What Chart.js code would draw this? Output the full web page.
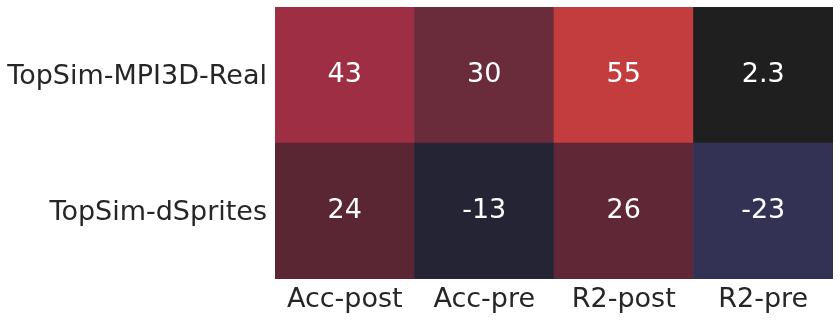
<!DOCTYPE html>
<html>
<head>
<meta charset="utf-8">
<script src="https://cdn.jsdelivr.net/npm/chart.js@4/dist/chart.umd.min.js"></script>
<style>
  html, body { margin: 0; padding: 0; background: #fff; }
  #wrap { width: 840px; height: 320px; }
</style>
</head>
<body>
<div id="wrap"><canvas id="heat"></canvas></div>
<script>
// heatmap values
const columns = ['Acc-post', 'Acc-pre', 'R2-post', 'R2-pre'];
const rows = ['TopSim-MPI3D-Real', 'TopSim-dSprites'];
const mpi3dReal = [43, 30, 55, 2.3];
const dSprites = [24, -13, 26, -23];

// colour scale (value -> colour)
const colorStops = [
  [-23, [0x34, 0x32, 0x54]],
  [-13, [0x25, 0x24, 0x35]],
  [2.3, [0x20, 0x1f, 0x1f]],
  [24, [0x5b, 0x26, 0x33]],
  [30, [0x6a, 0x2c, 0x3b]],
  [43, [0x9e, 0x2e, 0x44]],
  [55, [0xc3, 0x3d, 0x3f]],
];

function cellColor(v) {
  if (v <= colorStops[0][0]) return 'rgb(' + colorStops[0][1].join(',') + ')';
  for (let i = 1; i < colorStops.length; i++) {
    const [v1, c1] = colorStops[i];
    const [v0, c0] = colorStops[i - 1];
    if (v <= v1) {
      const t = (v - v0) / (v1 - v0);
      const c = c0.map((a, k) => Math.round(a + (c1[k] - a) * t));
      return 'rgb(' + c.join(',') + ')';
    }
  }
  return 'rgb(' + colorStops[colorStops.length - 1][1].join(',') + ')';
}

const fontFamily = '"DejaVu Sans", sans-serif';
const fontSize = 27;

// bottom row first, so it stacks from y = 0
const rowSeries = [dSprites, mpi3dReal];

const cellLabels = {
  id: 'cellLabels',
  afterDatasetsDraw(chart) {
    const ctx = chart.ctx;
    ctx.save();
    ctx.fillStyle = '#ffffff';
    ctx.font = fontSize + 'px ' + fontFamily;
    ctx.textAlign = 'center';
    ctx.textBaseline = 'middle';
    chart.data.datasets.forEach((ds, di) => {
      chart.getDatasetMeta(di).data.forEach((bar, i) => {
        const p = bar.getProps(['x', 'y', 'base'], true);
        ctx.fillText(String(ds.values[i]), p.x, (p.y + p.base) / 2);
      });
    });
    ctx.restore();
  }
};

new Chart(document.getElementById('heat'), {
  type: 'bar',
  data: {
    labels: columns,
    datasets: rowSeries.map((vals, r) => ({
      label: rows[rows.length - 1 - r],
      values: vals,
      data: vals.map(() => 1),
      backgroundColor: vals.map(cellColor),
      borderWidth: 0,
      barPercentage: 1,
      categoryPercentage: 1,
    })),
  },
  options: {
    responsive: true,
    maintainAspectRatio: false,
    animation: false,
    layout: { padding: { top: 7, right: 7, left: 0, bottom: 0 } },
    plugins: { legend: { display: false }, tooltip: { enabled: false } },
    scales: {
      x: {
        stacked: true,
        grid: { display: false, drawTicks: false },
        border: { display: false },
        ticks: { color: '#262626', font: { family: fontFamily, size: fontSize }, padding: 5, maxRotation: 0 },
        afterFit(scale) {
          scale.height = 41;
          scale.paddingLeft = 0;
          scale.paddingRight = 0;
        },
      },
      y: {
        stacked: true,
        min: 0,
        max: 2,
        grid: { display: false, drawTicks: false },
        border: { display: false },
        afterBuildTicks(scale) { scale.ticks = [{ value: 0.5 }, { value: 1.5 }]; },
        ticks: {
          color: '#262626',
          font: { family: fontFamily, size: fontSize },
          padding: 8,
          labelOffset: 2,
          callback: (v) => (v < 1 ? rows[1] : rows[0]),
        },
        afterFit(scale) {
          scale.width = 275;
          scale.paddingTop = 0;
          scale.paddingBottom = 0;
        },
      },
    },
  },
  plugins: [cellLabels],
});
</script>
</body>
</html>
